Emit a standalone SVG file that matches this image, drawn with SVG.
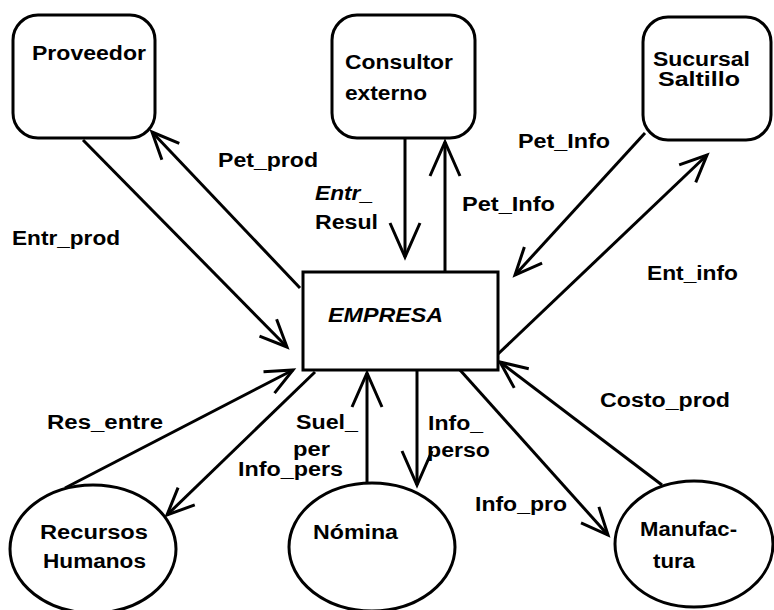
<svg xmlns="http://www.w3.org/2000/svg" width="774" height="610" viewBox="0 0 774 610">
<style>
  .box{fill:#fff;stroke:#000;stroke-width:3}
  .lbl{font-family:"Liberation Sans",Arial,sans-serif;font-size:20px;font-weight:bold;fill:#000}
  .it{font-style:italic}
  .con{fill:none;stroke:#000;stroke-width:3;marker-end:url(#ah)}
  .big{marker-end:url(#ahb)}
</style>
<defs>
  <marker id="ah" markerUnits="userSpaceOnUse" viewBox="-32 -16 36 32" refX="0" refY="0" markerWidth="36" markerHeight="32" orient="auto" overflow="visible">
    <path d="M-27,-12 L0,0 L-27,12" fill="none" stroke="#000" stroke-width="3"/>
  </marker>
  <marker id="ahb" markerUnits="userSpaceOnUse" viewBox="-40 -20 44 40" refX="0" refY="0" markerWidth="44" markerHeight="40" orient="auto" overflow="visible">
    <path d="M-34,-15 L0,0 L-34,15" fill="none" stroke="#000" stroke-width="3"/>
  </marker>
</defs>
<rect width="774" height="610" fill="#fff"/>
<g id="proveedor">
  <rect class="box" x="13" y="15" width="142" height="123" rx="25"/>
  <text class="lbl" x="32" y="60" textLength="114" lengthAdjust="spacingAndGlyphs">Proveedor</text>
</g>
<g id="consultor">
  <rect class="box" x="332" y="15" width="143" height="123" rx="25"/>
  <text class="lbl" x="345" y="69" textLength="108" lengthAdjust="spacingAndGlyphs">Consultor</text>
  <text class="lbl" x="345" y="100" textLength="82" lengthAdjust="spacingAndGlyphs">externo</text>
</g>
<g id="sucursal">
  <rect class="box" x="643" y="17" width="128" height="123" rx="25"/>
  <text class="lbl" x="653" y="66" textLength="97" lengthAdjust="spacingAndGlyphs">Sucursal</text>
  <text class="lbl" x="658" y="86" textLength="82" lengthAdjust="spacingAndGlyphs">Saltillo</text>
</g>
<g id="empresa">
  <rect class="box" x="303" y="272" width="195" height="98"/>
  <text class="lbl it" x="328" y="322" textLength="115" lengthAdjust="spacingAndGlyphs">EMPRESA</text>
</g>
<g id="recursos">
  <ellipse class="box" cx="93" cy="549" rx="83" ry="64"/>
  <text class="lbl" x="40" y="539" textLength="108" lengthAdjust="spacingAndGlyphs">Recursos</text>
  <text class="lbl" x="43" y="568" textLength="103" lengthAdjust="spacingAndGlyphs">Humanos</text>
</g>
<g id="nomina">
  <ellipse class="box" cx="372" cy="547" rx="83" ry="64"/>
  <text class="lbl" x="313" y="539" textLength="85" lengthAdjust="spacingAndGlyphs">Nómina</text>
</g>
<g id="manufactura">
  <ellipse class="box" cx="694" cy="544" rx="79" ry="63"/>
  <text class="lbl" x="640" y="536" textLength="97" lengthAdjust="spacingAndGlyphs">Manufac-</text>
  <text class="lbl" x="653" y="568" textLength="42" lengthAdjust="spacingAndGlyphs">tura</text>
</g>
<g id="connectors">
  <path class="con" d="M83,140 L287,347"/>
  <path class="con" d="M300,288 L152,132"/>
  <path class="con big" d="M405,138 L405,257"/>
  <path class="con big" d="M445,272 L445,142"/>
  <path class="con" d="M645,133 L515,275"/>
  <path class="con" d="M498,354 L707,155"/>
  <path class="con" d="M662,485 L500,362"/>
  <path class="con" d="M460,370 L608,535"/>
  <path class="con big" d="M417,370 L417,485"/>
  <path class="con big" d="M367,483 L367,373"/>
  <path class="con" d="M315,372 L167,515"/>
  <path class="con" d="M65,488 L293,370"/>
  <text class="lbl" x="218" y="167" textLength="100" lengthAdjust="spacingAndGlyphs">Pet_prod</text>
  <text class="lbl" x="12" y="245" textLength="108" lengthAdjust="spacingAndGlyphs">Entr_prod</text>
  <text class="lbl it" x="315" y="200" textLength="58" lengthAdjust="spacingAndGlyphs">Entr_</text>
  <text class="lbl" x="315" y="229" textLength="63" lengthAdjust="spacingAndGlyphs">Resul</text>
  <text class="lbl" x="462" y="211" textLength="93" lengthAdjust="spacingAndGlyphs">Pet_Info</text>
  <text class="lbl" x="518" y="148" textLength="92" lengthAdjust="spacingAndGlyphs">Pet_Info</text>
  <text class="lbl" x="647" y="280" textLength="91" lengthAdjust="spacingAndGlyphs">Ent_info</text>
  <text class="lbl" x="600" y="407" textLength="130" lengthAdjust="spacingAndGlyphs">Costo_prod</text>
  <text class="lbl" x="47" y="429" textLength="116" lengthAdjust="spacingAndGlyphs">Res_entre</text>
  <text class="lbl" x="296" y="429" textLength="62" lengthAdjust="spacingAndGlyphs">Suel_</text>
  <text class="lbl" x="293" y="456" textLength="37" lengthAdjust="spacingAndGlyphs">per</text>
  <text class="lbl" x="238" y="476" textLength="105" lengthAdjust="spacingAndGlyphs">Info_pers</text>
  <text class="lbl" x="428" y="430" textLength="55" lengthAdjust="spacingAndGlyphs">Info_</text>
  <text class="lbl" x="427" y="457" textLength="63" lengthAdjust="spacingAndGlyphs">perso</text>
  <text class="lbl" x="475" y="511" textLength="92" lengthAdjust="spacingAndGlyphs">Info_pro</text>
</g>
</svg>
